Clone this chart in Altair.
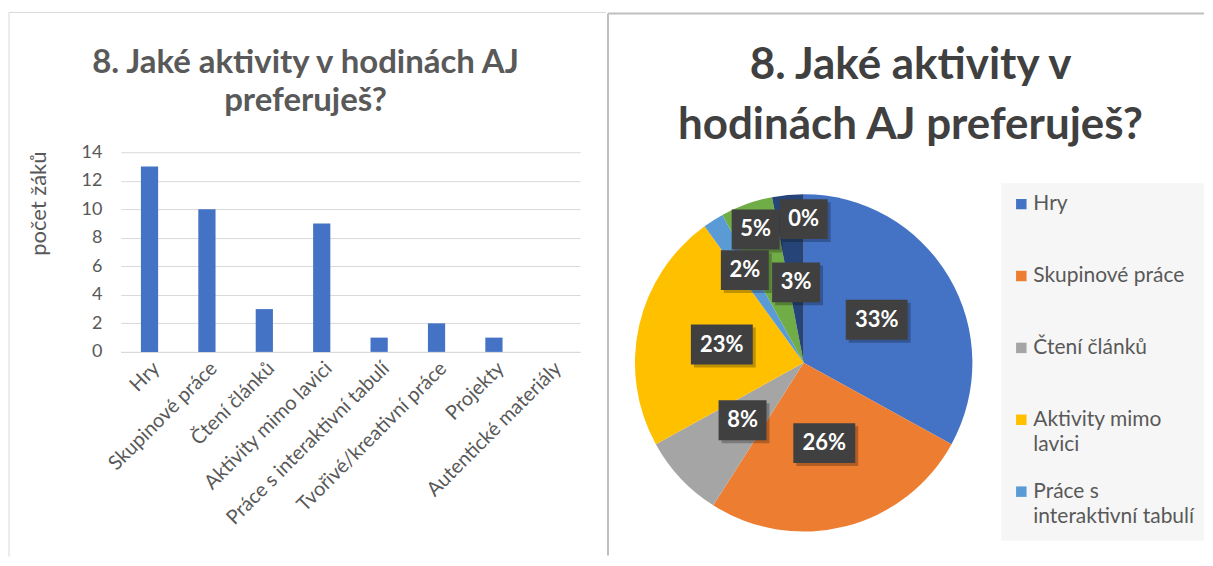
import textwrap
import altair as alt
import pandas as pd

# ---------------- data ----------------
categories = ["Hry", "Skupinové práce", "Čtení článků", "Aktivity mimo lavici",
              "Práce s interaktivní tabulí", "Tvořivé/kreativní práce", "Projekty",
              "Autentické materiály"]
counts = [13, 10, 3, 9, 1, 2, 1, 0]
pie_pct = [33, 26, 8, 23, 2, 5, 3, 0]
pct_labels = ["33%", "26%", "8%", "23%", "2%", "5%", "3%", "0%"]
legend_labels = ["Hry", "Skupinové práce", "Čtení článků", "Aktivity mimo\nlavici",
                 "Práce s\ninteraktivní tabulí", "Tvořivé/kreativní\npráce", "Projekty",
                 "Autentické\nmateriály"]
y_ticks = [0, 2, 4, 6, 8, 10, 12, 14]
title_text = "8. Jaké aktivity v hodinách AJ preferuješ?"
y_title = "počet žáků"

# ---------------- styles / layout ----------------
colors = ["#4472C4", "#ED7D31", "#A5A5A5", "#FFC000", "#5B9BD5", "#70AD47", "#264478", "#9E480E"]
label_radius = [85, 83, 84, 84, 110, 142, 81, 144]   # px from pie centre (Excel best-fit placement)
FONT = "Lato"
TXT = "#595959"

one = alt.Data(values=[{"k": 1}])

# ---------------- left panel: bar chart ----------------
PW, PH = 460, 200
bar_df = pd.DataFrame({"cat": categories, "count": counts})

bars = alt.Chart(bar_df).mark_bar(color="#4472C4").encode(
    x=alt.X("cat:N", sort=categories, title=None,
            scale=alt.Scale(paddingInner=0.7, paddingOuter=0.35),
            axis=alt.Axis(labelAngle=-45, labelFontSize=20, labelColor=TXT, labelFont=FONT,
                          ticks=False, domainColor="#d9d9d9", labelPadding=6, labelLimit=400)),
    y=alt.Y("count:Q", scale=alt.Scale(domain=[0, 14]),
            axis=alt.Axis(values=y_ticks, title=y_title, grid=True, gridColor="#d9d9d9",
                          domain=False, ticks=False, labelFontSize=18, labelColor=TXT,
                          labelFont=FONT, labelPadding=19, titleFontSize=22,
                          titleFontWeight="normal", titleColor=TXT, titleFont=FONT,
                          titleX=-82, titleY=51, titleAlign="center", titleBaseline="middle")),
)

lframe_left = alt.Chart(one).mark_rule(color="#d9d9d9", strokeWidth=1).encode(
    x=alt.value(-112), y=alt.value(-140), y2=alt.value(405))
lframe_top = alt.Chart(one).mark_rule(color="#d9d9d9", strokeWidth=1).encode(
    x=alt.value(-112), x2=alt.value(486), y=alt.value(-140))
ltitle = alt.Chart(one).mark_text(
    font=FONT, fontSize=33, fontWeight="bold", color=TXT, align="center",
    baseline="middle", lineBreak="\n", lineHeight=38).encode(
    x=alt.value(185), y=alt.value(-89), text=alt.value(textwrap.fill(title_text, 30)))

left = alt.layer(lframe_left, lframe_top, ltitle, bars).properties(width=PW, height=PH)

# ---------------- right panel: pie chart ----------------
RW, RH = 597, 396               # RH = clip height of the (cropped) legend area
OY = -139                       # panel top relative to the shared plot-area top
CX, CY, R = 196, 211, 169
pie_df = pd.DataFrame({"cat": categories, "pct": pie_pct, "label": pct_labels,
                       "idx": list(range(len(categories))), "lr": label_radius,
                       "leg": legend_labels})

arc = alt.Chart(pie_df).mark_arc(outerRadius=R).encode(
    theta=alt.Theta("pct:Q", stack=True),
    color=alt.Color("cat:N", scale=alt.Scale(domain=categories, range=colors), legend=None),
    order=alt.Order("idx:Q"),
    x=alt.value(CX), y=alt.value(CY),
)

lab_base = alt.Chart(pie_df).transform_window(
    cum="sum(pct)", sort=[alt.SortField("idx")], frame=[None, 0]
).transform_calculate(
    mid="(datum.cum - datum.pct / 2) / 100 * 2 * PI",
    lx=f"{CX} + datum.lr * sin(datum.mid)",
    ly=f"{CY} - datum.lr * cos(datum.mid)",
    hw="(length(datum.label) * 14 + 20) / 2",
    x1="datum.lx - datum.hw", x2="datum.lx + datum.hw",
    y1="datum.ly - 20", y2="datum.ly + 20",
    sx1="datum.x1 + 3", sx2="datum.x2 + 3", sy1="datum.y1 + 3", sy2="datum.y2 + 3",
)
lab_shadow = lab_base.mark_rect(color="#000000", opacity=0.25).encode(
    x=alt.X("sx1:Q", scale=None), x2="sx2:Q", y=alt.Y("sy1:Q", scale=None), y2="sy2:Q")
lab_box = lab_base.mark_rect(color="#404040").encode(
    x=alt.X("x1:Q", scale=None), x2="x2:Q", y=alt.Y("y1:Q", scale=None), y2="y2:Q")
lab_text = lab_base.mark_text(font=FONT, fontSize=22, fontWeight="bold", color="white",
                              align="center", baseline="middle").encode(
    x=alt.X("lx:Q", scale=None), y=alt.Y("ly:Q", scale=None), text="label:N")

leg_base = alt.Chart(pie_df).transform_calculate(
    gy="52 + 72 * datum.idx", ty="52 + 72 * datum.idx - 11")
leg_box = alt.Chart(one).mark_rect(color="#f6f6f6").encode(
    x=alt.value(394), x2=alt.value(RW), y=alt.value(31), y2=alt.value(389))
leg_sym = leg_base.mark_square(size=110, opacity=1, clip=True).encode(
    x=alt.value(414), y=alt.Y("gy:Q", scale=None),
    color=alt.Color("cat:N", scale=alt.Scale(domain=categories, range=colors), legend=None))
leg_txt = leg_base.mark_text(font=FONT, fontSize=21, color=TXT, align="left",
                             baseline="top", lineBreak="\n", lineHeight=25, clip=True).encode(
    x=alt.value(426), y=alt.Y("ty:Q", scale=None), text="leg:N")

rframe_left = alt.Chart(one).mark_rule(color="#bfbfbf", strokeWidth=2).encode(
    x=alt.value(0), y=alt.value(OY), y2=alt.value(404))
rframe_top = alt.Chart(one).mark_rule(color="#bfbfbf", strokeWidth=2).encode(
    x=alt.value(0), x2=alt.value(RW), y=alt.value(OY))
rtitle = alt.Chart(one).mark_text(
    font=FONT, fontSize=44, fontWeight="bold", color="#404040", align="center",
    baseline="middle", lineBreak="\n", lineHeight=60).encode(
    x=alt.value(303), y=alt.value(-86), text=alt.value(textwrap.fill(title_text, 23)))

right = alt.layer(rframe_left, rframe_top, rtitle, arc, lab_shadow, lab_box, lab_text,
                  leg_box, leg_sym, leg_txt).properties(width=RW, height=RH)

chart = alt.hconcat(left, right, spacing=0).properties(
    padding={"left": 0, "top": 3, "right": 0, "bottom": 0}
).configure_view(stroke=None)

chart.save("out.html", embed_options={"renderer": "svg", "actions": False})
